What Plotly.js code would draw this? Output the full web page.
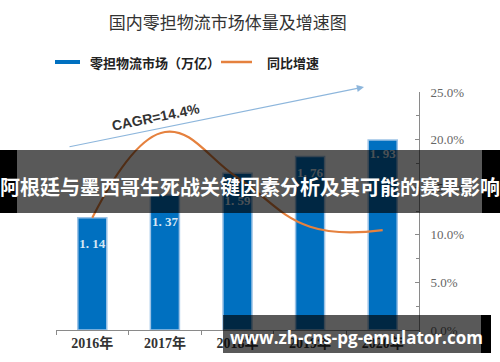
<!DOCTYPE html>
<html>
<head>
<meta charset="utf-8">
<script src="https://cdn.plot.ly/plotly-3.0.1.min.js"></script>
<style>
html,body{margin:0;padding:0;background:#fff;}
#chart{width:500px;height:362px;}
</style>
</head>
<body>
<div id="chart"></div>
<script>
// ---- data ----
const categories = ['2016年', '2017年', '2018年', '2019年', '2020年'];
const marketSize = [1.14, 1.37, 1.59, 1.76, 1.93];        // 万亿
const growthRate = [11.8, 20.8, 16.0, 10.85, 10.5];       // %
const rightTickVals = [0, 5, 10, 15, 20, 25];
const rightTickText = ['0.0%', '5.0%', '10.0%', '15.0%', '20.0%', '25.0%'];
const titleText = '国内零担物流市场体量及增速图';
const barName = '零担物流市场（万亿）';
const lineName = '同比增速';
const cagrText = 'CAGR=14.4%';
const bannerText = '阿根廷与墨西哥生死战关键因素分析及其可能的赛果影响';
const watermarkText = 'www.zh-cns-pg-emulator.com';

// ---- layout helpers (pixel -> paper) ----
const M = {l: 56, r: 81, t: 92, b: 32};
const W = 500 - M.l - M.r, H = 362 - M.t - M.b;
const px = x => (x - M.l) / W;
const py = y => (362 - M.b - y) / H;

const serif = 'Liberation Serif, DejaVu Serif, Noto Sans CJK SC, serif';
const cjk = 'Noto Sans CJK SC, sans-serif';

// label placement style: pixels below bar top
const yMax = 2.416;
const pxPerUnit = H / yMax;
const labelDrop = [27, 28, 28, 17, 15];
const barLabels = marketSize.map(v => v.toFixed(2).replace('.', '. '));
const labelY = marketSize.map((v, i) => v - labelDrop[i] / pxPerUnit);

const traces = [
  {
    type: 'bar', x: categories, y: marketSize, name: barName,
    width: 0.4,
    marker: {color: '#0070c0', line: {color: '#9dc3e6', width: 1.5}},
    hoverinfo: 'skip', showlegend: false
  },
  {
    type: 'scatter', mode: 'text', x: categories, y: labelY,
    text: barLabels, textposition: 'middle center',
    textfont: {family: serif, size: 13, color: '#d6e6f4', weight: 'bold'},
    cliponaxis: false, showlegend: false, hoverinfo: 'skip'
  },
  {
    type: 'scatter', mode: 'lines', x: categories, y: growthRate, yaxis: 'y2', name: lineName,
    line: {color: '#e5813e', width: 2.2, shape: 'spline', smoothing: 1.2},
    showlegend: false, hoverinfo: 'skip', cliponaxis: false
  }
];

const shapes = [
  // legend swatches
  {type: 'line', xref: 'paper', yref: 'paper', x0: px(55), x1: px(80), y0: py(62), y1: py(62),
   line: {color: '#0070c0', width: 4}},
  {type: 'line', xref: 'paper', yref: 'paper', x0: px(221), x1: px(252), y0: py(62), y1: py(62),
   line: {color: '#e5813e', width: 2.5}},
  // banner
  {type: 'rect', xref: 'paper', yref: 'paper', layer: 'above', x0: px(17), x1: px(482), y0: py(213), y1: py(150),
   fillcolor: 'rgba(0,0,0,0.65)', line: {width: 0}},
  {type: 'rect', xref: 'paper', yref: 'paper', layer: 'above', x0: px(0), x1: px(17), y0: py(213), y1: py(150),
   fillcolor: '#000', line: {width: 0}},
  {type: 'rect', xref: 'paper', yref: 'paper', layer: 'above', x0: px(482), x1: px(500), y0: py(213), y1: py(150),
   fillcolor: '#000', line: {width: 0}},
  // watermark box
  {type: 'rect', xref: 'paper', yref: 'paper', layer: 'above', x0: px(223), x1: px(481), y0: py(353), y1: py(315),
   fillcolor: 'rgba(0,0,0,0.65)', line: {width: 0}},
  {type: 'rect', xref: 'paper', yref: 'paper', layer: 'above', x0: px(481), x1: px(491), y0: py(353), y1: py(315),
   fillcolor: '#000', line: {width: 0}}
];

const annotations = [
  {xref: 'paper', yref: 'paper', x: px(88), y: py(62), xanchor: 'left', yanchor: 'middle', showarrow: false,
   text: barName, font: {family: cjk, size: 13, color: '#222', weight: 'bold'}},
  {xref: 'paper', yref: 'paper', x: px(265), y: py(62), xanchor: 'left', yanchor: 'middle', showarrow: false,
   text: lineName, font: {family: cjk, size: 13, color: '#222', weight: 'bold'}},
  // CAGR arrow
  {xref: 'paper', yref: 'paper', x: px(364), y: py(87), axref: 'pixel', ayref: 'pixel', ax: -296, ay: 60,
   text: '', showarrow: true, arrowhead: 2, arrowsize: 1.3, arrowwidth: 1.1, arrowcolor: '#8db6dc'},
  {xref: 'paper', yref: 'paper', x: px(156), y: py(117), xanchor: 'center', yanchor: 'middle',
   showarrow: false, textangle: -11.5,
   text: cagrText, font: {family: 'Liberation Sans, Arial, sans-serif', size: 14, color: '#333', weight: 'bold'}},
  // banner text
  {xref: 'paper', yref: 'paper', x: px(250), y: py(186), xanchor: 'center', yanchor: 'middle', showarrow: false,
   text: bannerText, font: {family: cjk, size: 20, color: '#fff', weight: 'bold'}},
  // watermark text
  {xref: 'paper', yref: 'paper', x: px(356), y: py(337), xanchor: 'center', yanchor: 'middle', showarrow: false,
   text: watermarkText, font: {family: 'Open Sans, Noto Sans, sans-serif', size: 17, color: '#fff', weight: 'bold'}}
];

const layout = {
  width: 500, height: 362,
  margin: M,
  paper_bgcolor: '#fff', plot_bgcolor: '#fff',
  showlegend: false,
  title: {
    text: titleText, x: 236.5 / 500, xanchor: 'center', xref: 'paper',
    y: 1 - 23 / 362, yanchor: 'middle', yref: 'container',
    font: {family: cjk, size: 17, color: '#333'}
  },
  xaxis: {
    type: 'category', range: [-0.5, 4.5], fixedrange: true,
    showline: true, linecolor: '#8a8a8a', linewidth: 1,
    ticks: 'outside', tickson: 'boundaries', ticklen: 4, tickcolor: '#8a8a8a',
    showgrid: false, zeroline: false,
    tickfont: {family: serif, size: 14, color: '#333', weight: 'bold'}
  },
  yaxis: {
    range: [0, yMax], visible: false, showgrid: false, zeroline: false, fixedrange: true
  },
  yaxis2: {
    overlaying: 'y', side: 'right', range: [0, 25], fixedrange: true,
    tickvals: rightTickVals, ticktext: rightTickText,
    showline: true, linecolor: '#8a8a8a', linewidth: 1,
    ticks: 'inside', ticklen: 4, tickcolor: '#8a8a8a',
    minor: {dtick: 2.5, ticks: 'inside', ticklen: 3, tickcolor: '#8a8a8a'},
    ticklabelstandoff: 8,
    showgrid: false, zeroline: false,
    tickfont: {family: serif, size: 13, color: '#666'}
  },
  shapes: shapes,
  annotations: annotations
};

Plotly.newPlot('chart', traces, layout, {staticPlot: true, displayModeBar: false});
</script>
</body>
</html>
